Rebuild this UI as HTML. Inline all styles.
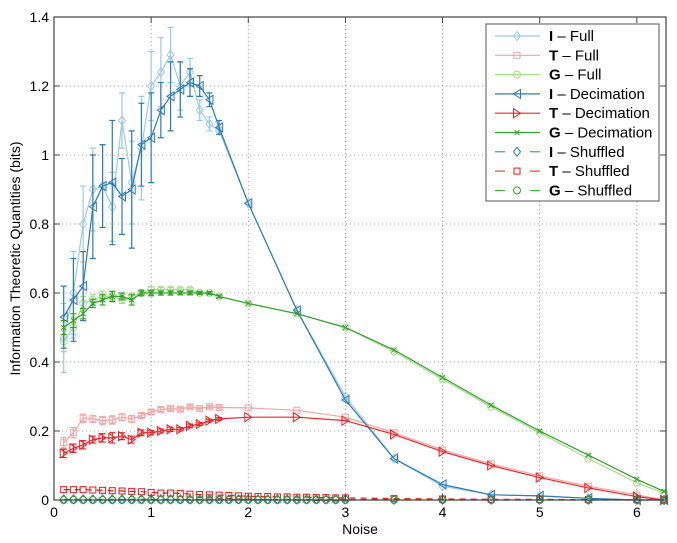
<!DOCTYPE html>
<html><head><meta charset="utf-8"><style>
body{margin:0;background:#fff}
svg{display:block;font-family:"Liberation Sans",sans-serif}
</style></head><body>
<svg id="chart" width="677" height="543" viewBox="0 0 677 543" xmlns="http://www.w3.org/2000/svg"></svg>
<script>
const xTicks=[0,1,2,3,4,5,6];
const yTicks=[0,0.2,0.4,0.6,0.8,1,1.2,1.4];
const yTickLabels=["0","0.2","0.4","0.6","0.8","1","1.2","1.4"];
const xMain=[0.1,0.2,0.3,0.4,0.5,0.6,0.7,0.8,0.9,1.0,1.1,1.2,1.3,1.4,1.5,1.6,1.7,2,2.5,3,3.5,4,4.5,5,5.5,6,6.28];
const iFull=[0.47,0.60,0.80,0.90,0.91,0.85,1.10,0.92,1.02,1.20,1.24,1.29,1.20,1.24,1.13,1.09,1.07,0.86,0.55,0.30,0.12,0.04,0.015,0.012,0.005,0.0,0.0];
const iFullErr=[0.10,0.12,0.11,0.12,0.12,0.10,0.08,0.12,0.15,0.10,0.10,0.08,0.07,0.04,0.03,0.02,0.01,0,0,0,0,0,0,0,0,0,0];
const iDec=[0.53,0.58,0.62,0.85,0.91,0.92,0.88,0.90,1.03,1.05,1.13,1.17,1.19,1.21,1.20,1.16,1.08,0.86,0.55,0.29,0.12,0.045,0.015,0.012,0.005,0.0,0.0];
const iDecErr=[0.09,0.12,0.10,0.15,0.12,0.18,0.11,0.17,0.12,0.13,0.08,0.10,0.08,0.04,0.03,0.02,0.02,0,0,0,0,0,0,0,0,0,0];
const tFull=[0.166,0.195,0.237,0.235,0.23,0.232,0.24,0.235,0.245,0.255,0.262,0.265,0.263,0.27,0.265,0.27,0.268,0.267,0.26,0.24,0.195,0.145,0.105,0.07,0.04,0.015,0.0];
const tFullErr=[0.015,0.015,0.012,0.01,0.012,0.012,0.01,0.01,0.006,0.006,0.006,0.005,0.005,0.005,0.004,0.004,0.004,0,0,0,0,0,0,0,0,0,0];
const tDec=[0.135,0.15,0.16,0.175,0.18,0.18,0.185,0.175,0.195,0.195,0.20,0.205,0.205,0.215,0.22,0.23,0.235,0.24,0.24,0.23,0.19,0.14,0.10,0.065,0.035,0.01,0.0];
const tDecErr=[0.012,0.012,0.012,0.01,0.012,0.015,0.01,0.01,0.008,0.006,0.006,0.006,0.005,0.005,0.004,0.004,0.004,0,0,0,0,0,0,0,0,0,0];
const gFull=[0.46,0.50,0.57,0.58,0.59,0.59,0.58,0.59,0.60,0.61,0.61,0.61,0.61,0.61,0.60,0.60,0.59,0.57,0.54,0.50,0.43,0.35,0.27,0.195,0.12,0.05,0.02];
const gFullErr=[0.03,0.03,0.02,0.015,0.015,0.012,0.01,0.01,0.008,0.008,0.006,0.006,0.005,0.005,0.004,0.004,0.004,0,0,0,0,0,0,0,0,0,0];
const gDec=[0.50,0.52,0.54,0.57,0.58,0.59,0.59,0.58,0.60,0.60,0.60,0.60,0.60,0.60,0.60,0.60,0.59,0.57,0.54,0.50,0.435,0.355,0.275,0.20,0.13,0.06,0.025];
const gDecErr=[0.02,0.02,0.015,0.012,0.015,0.015,0.01,0.015,0.008,0.008,0.006,0.006,0.005,0.005,0.004,0.004,0.004,0,0,0,0,0,0,0,0,0,0];
const xShuf=[0.1,0.2,0.3,0.4,0.5,0.6,0.7,0.8,0.9,1.0,1.1,1.2,1.3,1.4,1.5,1.6,1.7,1.8,1.9,2.0,2.1,2.2,2.3,2.4,2.5,2.6,2.7,2.8,2.9,3.0,3.5,4,4.5,5,5.5,6,6.28];
const tShuf=[0.03,0.03,0.03,0.029,0.028,0.027,0.026,0.025,0.024,0.022,0.02,0.02,0.019,0.017,0.016,0.015,0.014,0.013,0.012,0.011,0.01,0.01,0.009,0.009,0.008,0.008,0.007,0.007,0.006,0.006,0.004,0.003,0.002,0.002,0.001,0.001,0.0];
const iShuf=[0.002,0.002,0.002,0.002,0.002,0.002,0.002,0.002,0.002,0.002,0.002,0.002,0.002,0.002,0.002,0.002,0.002,0.002,0.002,0.002,0.002,0.002,0.002,0.002,0.002,0.002,0.002,0.002,0.002,0.002,0.001,0.001,0.001,0.001,0.001,0.001,0.0];
const gShuf=[0,0,0,0,0,0,0,0,0,0,0,0,0,0,0,0,0,0,0,0,0,0,0,0,0,0,0,0,0,0,0,0,0,0,0,0,0];

const L=54,R=666,T=17,B=500,XMAX=6.3,YMAX=1.4;
const sx=v=>L+v/XMAX*(R-L), sy=v=>B-v/YMAX*(B-T);
const svg=document.getElementById('chart');
const NS='http://www.w3.org/2000/svg';
function mk(tag,attrs,parent){const e=document.createElementNS(NS,tag);for(const k in attrs)e.setAttribute(k,attrs[k]);(parent||svg).appendChild(e);return e;}

const grid=mk('g',{});


xTicks.forEach(t=>{if(t>0)mk('line',{x1:sx(t),x2:sx(t),y1:T,y2:B,stroke:'#888','stroke-width':0.8,'stroke-dasharray':'1,3'},grid);});
yTicks.forEach(t=>{if(t>0&&t<YMAX)mk('line',{x1:L,x2:R,y1:sy(t),y2:sy(t),stroke:'#888','stroke-width':0.8,'stroke-dasharray':'1,3'},grid);});

function marker(g,type,x,y,color){
  const s=3.5;
  if(type==='d')mk('polygon',{points:`${x},${y-s-1} ${x+s},${y} ${x},${y+s+1} ${x-s},${y}`,fill:'none',stroke:color},g);
  else if(type==='s')mk('rect',{x:x-3,y:y-3,width:6,height:6,fill:'none',stroke:color},g);
  else if(type==='o')mk('circle',{cx:x,cy:y,r:3.5,fill:'none',stroke:color},g);
  else if(type==='<')mk('polygon',{points:`${x-s},${y} ${x+s},${y-s-1} ${x+s},${y+s+1}`,fill:'none',stroke:color},g);
  else if(type==='>')mk('polygon',{points:`${x+s},${y} ${x-s},${y-s-1} ${x-s},${y+s+1}`,fill:'none',stroke:color},g);
  else if(type==='x'){mk('path',{d:`M${x-2.5},${y-2.5}L${x+2.5},${y+2.5}M${x-2.5},${y+2.5}L${x+2.5},${y-2.5}`,stroke:color},g);}
}
function series(name,xs,ys,errs,color,type,dash,w){
  const g=mk('g',{});
  
  
  let d='';xs.forEach((x,i)=>{d+=(i?'L':'M')+sx(x).toFixed(1)+','+sy(ys[i]).toFixed(1);});
  mk('path',{d:d,fill:'none',stroke:color,'stroke-width':w||1.2,'stroke-dasharray':dash||'none'},g);
  if(errs)xs.forEach((x,i)=>{if(errs[i]>0){const X=sx(x),y1=sy(ys[i]-errs[i]),y2=sy(ys[i]+errs[i]);
    mk('path',{d:`M${X},${y1}L${X},${y2}M${X-3},${y1}L${X+3},${y1}M${X-3},${y2}L${X+3},${y2}`,stroke:color,'stroke-width':1.2,fill:'none'},g);}});
  xs.forEach((x,i)=>marker(g,type,sx(x),sy(ys[i]),color));
}
const cIF='#9ecae1',cTF='#f4a5a5',cGF='#a8dc8a',cID='#2b7bba',cTD='#e8262a',cGD='#33a02c';
series('series-i-full',xMain,iFull,iFullErr,cIF,'d');
series('series-g-full',xMain,gFull,gFullErr,cGF,'o');
series('series-t-full',xMain,tFull,tFullErr,cTF,'s');
series('series-i-decimation',xMain,iDec,iDecErr,cID,'<');
series('series-g-decimation',xMain,gDec,gDecErr,cGD,'x');
series('series-t-decimation',xMain,tDec,tDecErr,cTD,'>');
series('series-t-shuffled',xShuf,tShuf,null,'#e31a1c','s','6,5');
series('series-i-shuffled',xShuf,iShuf,null,'#2b7bba','d','6,5');
series('series-g-shuffled',xShuf,gShuf,null,'#33a02c','o','6,5');

const ax=mk('g',{});


mk('rect',{x:L,y:T,width:R-L,height:B-T,fill:'none',stroke:'#444','stroke-width':1.2},ax);
xTicks.forEach(t=>{mk('line',{x1:sx(t),x2:sx(t),y1:B,y2:B-6,stroke:'#444'},ax);mk('line',{x1:sx(t),x2:sx(t),y1:T,y2:T+6,stroke:'#444'},ax);
  const tx=mk('text',{x:sx(t),y:B+17,'text-anchor':'middle','font-size':14},ax);tx.textContent=t;});
yTicks.forEach((t,i)=>{mk('line',{x1:L,x2:L+6,y1:sy(t),y2:sy(t),stroke:'#444'},ax);mk('line',{x1:R,x2:R-6,y1:sy(t),y2:sy(t),stroke:'#444'},ax);
  const tx=mk('text',{x:L-5,y:sy(t)+5,'text-anchor':'end','font-size':14},ax);tx.textContent=yTickLabels[i];});
const xl=mk('text',{x:(L+R)/2,y:534,'text-anchor':'middle','font-size':14});
xl.textContent='Noise';
const yl=mk('text',{x:0,y:0,'text-anchor':'middle','font-size':14,transform:`translate(20,${(T+B)/2}) rotate(-90)`});
yl.textContent='Information Theoretic Quantities (bits)';

const lg=mk('g',{});


mk('rect',{x:486,y:24,width:173,height:177,fill:'#fff',stroke:'#555','stroke-width':1},lg);
const legNames=['I','T','G','I','T','G','I','T','G'];
const legKinds=['Full','Full','Full','Decimation','Decimation','Decimation','Shuffled','Shuffled','Shuffled'];
const legColors=[cIF,cTF,cGF,cID,cTD,cGD,'#2b7bba','#e31a1c','#33a02c'];
const legTypes=['d','s','o','<','>','x','d','s','o'];
legNames.forEach((n,i)=>{
  const y=36+i*19.3;
  const e=mk('g',{},lg);
  
  
  if(i<6)mk('line',{x1:495,x2:540,y1:y,y2:y,stroke:legColors[i],'stroke-width':1.2},e);
  else{mk('line',{x1:495,x2:505,y1:y,y2:y,stroke:legColors[i]},e);mk('line',{x1:530,x2:540,y1:y,y2:y,stroke:legColors[i]},e);}
  marker(e,legTypes[i],517,y,legColors[i]);
  const t=mk('text',{x:549,y:y+5,'font-size':15},e);
  t.innerHTML='<tspan font-weight="bold">'+n+'</tspan> – '+legKinds[i];
});
</script>
</body></html>
